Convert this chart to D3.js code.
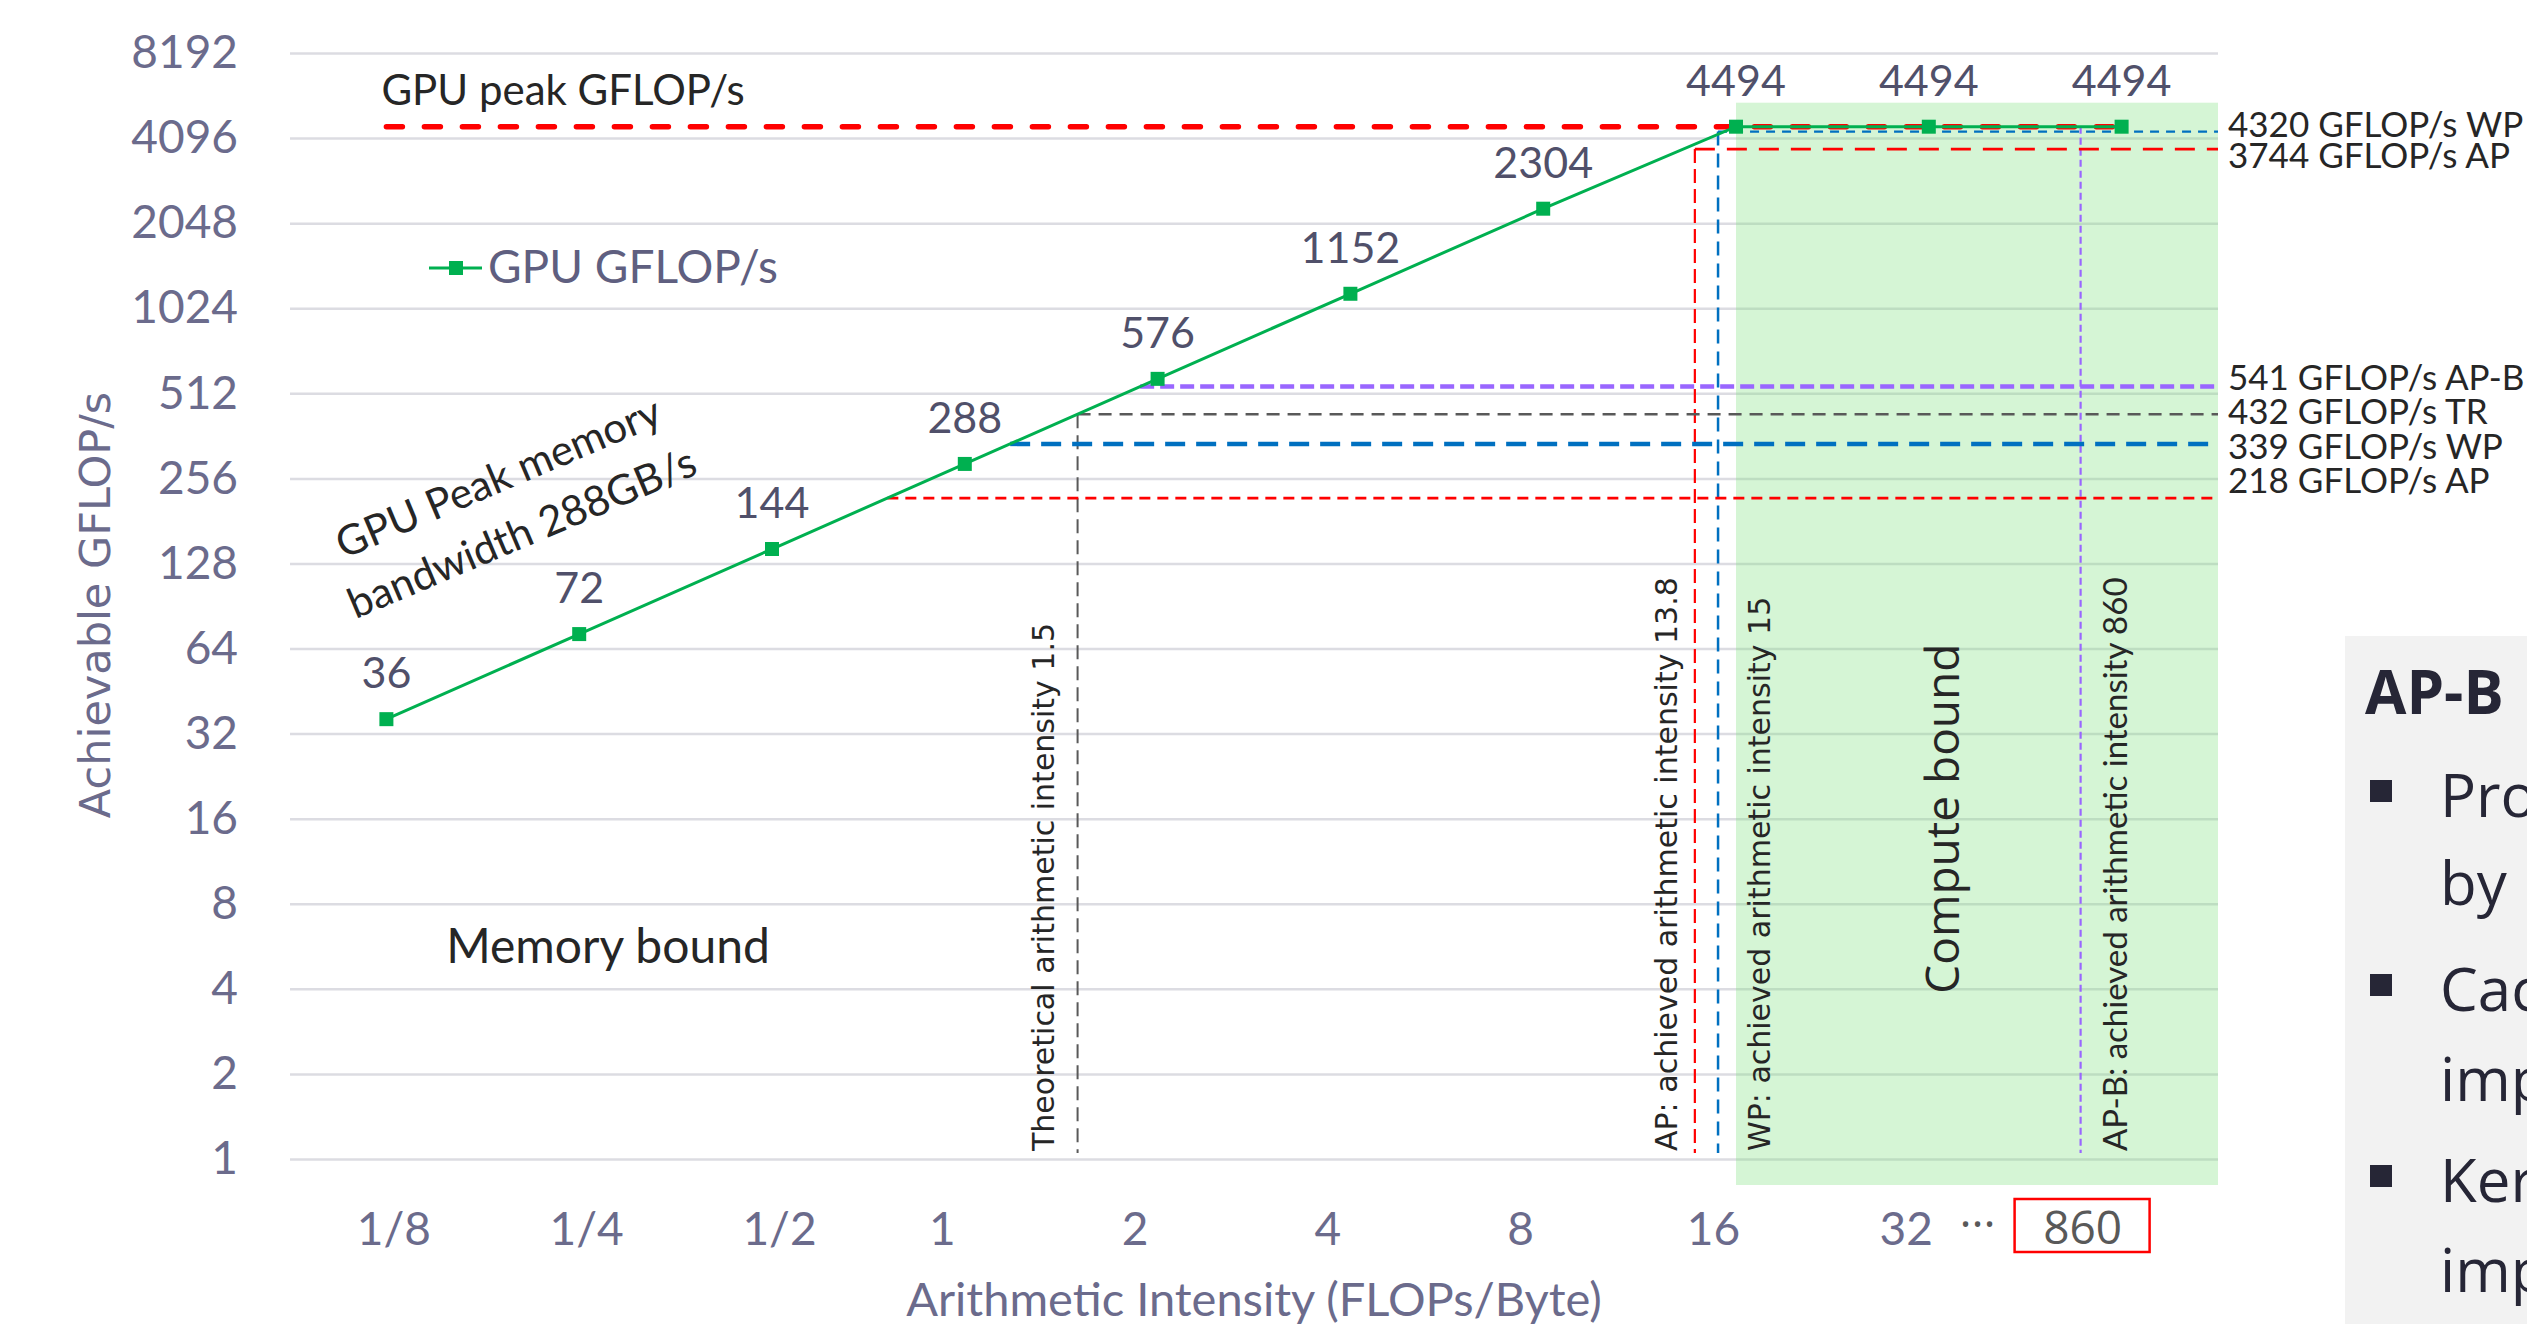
<!DOCTYPE html>
<html>
<head>
<meta charset="utf-8">
<title>Roofline</title>
<script src="https://cdn.jsdelivr.net/npm/d3@7"></script>
<style>
    body { margin: 0; background: #fff; overflow: hidden; }
    svg { display: block; }
</style>
</head>
<body>
<svg width="2527" height="1324" id="mainsvg"></svg>
<script>
    // values
    const categories = ['1/8', '1/4', '1/2', '1', '2', '4', '8', '16', '32', '860'];
    const gpuGflops = [36, 72, 144, 288, 576, 1152, 2304, 4494, 4494, 4494];
    const yTickValues = [1, 2, 4, 8, 16, 32, 64, 128, 256, 512, 1024, 2048, 4096, 8192];
    const xTickLabels = ['1/8', '1/4', '1/2', '1', '2', '4', '8', '16', '32'];
    const xTickValues = [1/8, 1/4, 1/2, 1, 2, 4, 8, 16, 32];
    const peakGflops = 4494;
    const memBandwidth = 288;

    // achieved arithmetic intensity (vertical markers)
    const vNames = ['TR', 'AP', 'WP', 'AP-B'];
    const vIntensity = [1.5, 13.8, 15, 860];
    const vTop = [432, 3744, 4320, 4494];
    const vLabels = ['Theoretical arithmetic intensity 1.5', 'AP: achieved arithmetic intensity 13.8',
        'WP: achieved arithmetic intensity 15', 'AP-B: achieved arithmetic intensity 860'];

    // achieved GFLOP/s levels (horizontal markers)
    const hValues = [4320, 3744, 541, 432, 339, 218];
    const hNames = ['WP', 'AP', 'AP-B', 'TR', 'WP', 'AP'];
    const hFrom = ['app', 'app', 'roof', 'roof', 'roof', 'roof'];

    const svg = d3.select('svg');
    const left = 290, right = 2218;
    const calibri = 'Lato, sans-serif';
    const verdana = '"DejaVu Sans", Verdana, sans-serif';
    const segoe = '"Open Sans", sans-serif';
    const axisColor = '#6b6b8c';
    const ink = '#262626';

    const xBand = d3.scaleBand().domain(categories).range([left, right]);
    const xc = c => xBand(c) + xBand.bandwidth() / 2;
    const y = d3.scaleLog().base(2).domain([1, 8192]).range([1159, 53]);
    // annotations sit on a log scale; the boxed 860 tick is drawn left of its band in the original
    const x = d3.scaleLog().base(2).domain([1/8, 32, 860]).range([xc('1/8'), xc('32'), xc('860') - 41]);

    // y axis + grid
    const yAxis = svg.append('g').attr('transform', `translate(${left},0)`)
        .call(d3.axisLeft(y).tickValues(yTickValues).tickFormat(d => d).tickSize(-(right - left)).tickPadding(52));
    yAxis.select('.domain').remove();
    yAxis.selectAll('line').attr('stroke', '#dcdce2').attr('stroke-width', 2.5);
    yAxis.selectAll('text').attr('fill', axisColor).attr('font-family', calibri).attr('font-size', 46);

    // compute bound region
    const regionTop = y(peakGflops) - 24;
    svg.append('rect').attr('x', x(16)).attr('y', regionTop)
        .attr('width', right - x(16)).attr('height', y(1) + 26 - regionTop)
        .attr('fill', 'rgb(124,224,124)').attr('fill-opacity', 0.32);

    // x tick labels
    const xAxis = svg.append('g').attr('transform', 'translate(0,1245)')
        .call(d3.axisBottom(x).tickValues(xTickValues).tickFormat((d, i) => xTickLabels[i]).tickSize(0).tickPadding(0));
    xAxis.select('.domain').remove();
    xAxis.selectAll('text').attr('dy', 0).attr('x', d => d < 1 ? 7 : -23)
        .attr('fill', axisColor).attr('font-family', calibri).attr('font-size', 46);

    svg.append('text').attr('x', x(860) - 103).attr('y', 1240).attr('text-anchor', 'middle')
        .attr('font-family', segoe).attr('font-size', 46).attr('fill', '#595959').text('···');
    svg.append('rect').attr('x', x(860) - 66).attr('y', 1199).attr('width', 135).attr('height', 53)
        .attr('fill', 'none').attr('stroke', '#ff0000').attr('stroke-width', 2.5);
    svg.append('text').attr('x', x(860) + 2).attr('y', 1244).attr('text-anchor', 'middle')
        .attr('font-family', segoe).attr('font-size', 46).attr('fill', '#595959').text('860');

    // axis titles
    svg.append('text').attr('x', 1254).attr('y', 1316).attr('text-anchor', 'middle')
        .attr('font-family', calibri).attr('font-size', 47).attr('fill', axisColor)
        .text('Arithmetic Intensity (FLOPs/Byte)');
    svg.append('text').attr('transform', 'translate(110,605) rotate(-90)').attr('text-anchor', 'middle')
        .attr('font-family', verdana).attr('font-size', 43).attr('fill', axisColor)
        .text('Achievable GFLOP/s');

    // peak compute line
    svg.append('line').attr('x1', xc('1/8')).attr('x2', xc('860'))
        .attr('y1', y(peakGflops)).attr('y2', y(peakGflops))
        .attr('stroke', '#ff0000').attr('stroke-width', 5.5)
        .attr('stroke-dasharray', '16 22').attr('stroke-linecap', 'round');
    svg.append('text').attr('x', xc('1/8') - 5).attr('y', y(peakGflops) - 22)
        .attr('font-family', calibri).attr('font-size', 42).attr('fill', ink).text('GPU peak GFLOP/s');

    // vertical intensity markers
    const vStyle = { 'TR': ['#595959', 2, '14 7'], 'AP': ['#ff0000', 2.2, '14 6'],
        'WP': ['#0070c0', 2.5, '14 8'], 'AP-B': ['#9966ff', 2.2, '7 4'] };
    const vLabelDx = [-24, -18, 52, 46];
    vNames.forEach((n, i) => {
        const xv = x(vIntensity[i]);
        svg.append('line').attr('x1', xv).attr('x2', xv).attr('y1', y(vTop[i])).attr('y2', y(1) - 6)
            .attr('stroke', vStyle[n][0]).attr('stroke-width', vStyle[n][1]).attr('stroke-dasharray', vStyle[n][2]);
        svg.append('text').attr('transform', `translate(${xv + vLabelDx[i]},${y(1) - 8}) rotate(-90)`)
            .attr('font-family', n === 'AP-B' ? calibri : verdana).attr('font-size', n === 'AP-B' ? 33 : 30)
            .attr('fill', ink).text(vLabels[i]);
    });

    // horizontal GFLOP/s markers
    const hStyle = [['#0070c0', 2.2, '9 7'], ['#ff0000', 2.8, '20 12'], ['#9966ff', 4.5, '14 6'],
        ['#595959', 2.5, '13 8'], ['#0070c0', 4.5, '20 11'], ['#ff0000', 2.8, '11 7']];
    hValues.forEach((v, i) => {
        const from = hFrom[i] === 'app' ? vIntensity[vNames.indexOf(hNames[i])] : v / memBandwidth;
        svg.append('line').attr('x1', x(from)).attr('x2', right).attr('y1', y(v)).attr('y2', y(v))
            .attr('stroke', hStyle[i][0]).attr('stroke-width', hStyle[i][1]).attr('stroke-dasharray', hStyle[i][2]);
        const ly = i < 2 ? y(hValues[0]) + 5 + i * 31 : y(hValues[2]) + 3 + (i - 2) * 34.5;
        svg.append('text').attr('x', right + 10).attr('y', ly)
            .attr('font-family', calibri).attr('font-size', 35).attr('fill', ink)
            .text(`${v} GFLOP/s ${hNames[i]}`);
    });

    // GPU GFLOP/s series
    const series = d3.zip(categories, gpuGflops);
    svg.append('path').datum(series)
        .attr('d', d3.line().x(d => xc(d[0])).y(d => y(d[1])))
        .attr('fill', 'none').attr('stroke', '#00b050').attr('stroke-width', 3);
    svg.append('g').selectAll('rect').data(series).join('rect')
        .attr('x', d => xc(d[0]) - 7).attr('y', d => y(d[1]) - 7).attr('width', 14).attr('height', 14)
        .attr('fill', '#00b050');
    svg.append('g').selectAll('text').data(series).join('text')
        .attr('x', d => xc(d[0])).attr('y', d => y(d[1]) - 31).attr('text-anchor', 'middle')
        .attr('font-family', calibri).attr('font-size', 43).attr('fill', '#50506a')
        .text(d => d[1]);

    // legend
    svg.append('line').attr('x1', 429).attr('x2', 482).attr('y1', 268).attr('y2', 268)
        .attr('stroke', '#00b050').attr('stroke-width', 3);
    svg.append('rect').attr('x', 449).attr('y', 261).attr('width', 14).attr('height', 14).attr('fill', '#00b050');
    svg.append('text').attr('x', 488).attr('y', 283).attr('font-family', calibri).attr('font-size', 46)
        .attr('fill', '#5f5f80').text('GPU GFLOP/s');

    // region notes
    const bw = svg.append('text').attr('transform', 'translate(504,491) rotate(-23)').attr('text-anchor', 'middle')
        .attr('font-family', calibri).attr('font-size', 42).attr('fill', ink);
    bw.append('tspan').attr('x', 0).attr('y', 0).text('GPU Peak memory');
    bw.append('tspan').attr('x', 0).attr('y', 60).text(`bandwidth ${memBandwidth}GB/s`);
    svg.append('text').attr('x', 608).attr('y', 963).attr('text-anchor', 'middle')
        .attr('font-family', calibri).attr('font-size', 48).attr('fill', ink).text('Memory bound');
    svg.append('text').attr('transform', `translate(${xc('32') + 30},${y(16)}) rotate(-90)`).attr('text-anchor', 'middle')
        .attr('font-family', segoe).attr('font-size', 46).attr('fill', ink).text('Compute bound');

    // side panel (cut off by the slide edge)
    svg.append('rect').attr('x', 2345).attr('y', 636).attr('width', 200).attr('height', 700).attr('fill', '#f2f2f2');
    svg.append('text').attr('x', 2365).attr('y', 714).attr('font-family', segoe).attr('font-weight', 'bold')
        .attr('font-size', 60).attr('fill', '#262636').text('AP-B');
    const panelLines = ['Pro', 'by', 'Cac', 'imp', 'Ker', 'imp'];
    const panelBase = [817, 905, 1011, 1101, 1202, 1292];
    svg.append('g').selectAll('text').data(panelLines).join('text')
        .attr('x', 2440).attr('y', (d, i) => panelBase[i])
        .attr('font-family', segoe).attr('font-size', 60).attr('fill', '#262636').text(d => d);
    svg.append('g').selectAll('rect').data([0, 2, 4]).join('rect')
        .attr('x', 2370).attr('y', i => panelBase[i] - 37).attr('width', 22).attr('height', 22).attr('fill', '#262636');
</script>
</body>
</html>
